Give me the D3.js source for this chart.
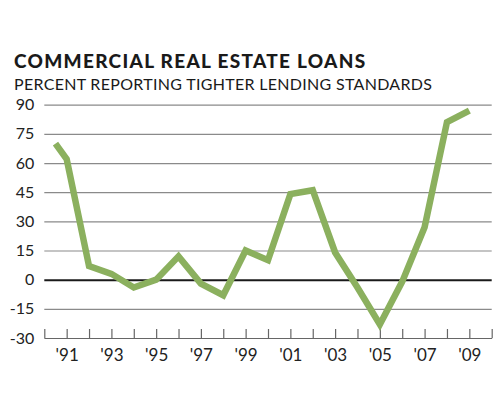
<!DOCTYPE html>
<html>
<head>
<meta charset="utf-8">
<script src="https://cdn.jsdelivr.net/npm/d3@7"></script>
<style>
  body { margin: 0; background: #fff; }
  .title { font-family: Lato, "DejaVu Sans", sans-serif; font-weight: 900; font-size: 19px; letter-spacing: 1.3px; fill: #1a1a1a; }
  .subtitle { font-family: Lato, "DejaVu Sans", sans-serif; font-weight: 400; font-size: 16px; letter-spacing: 0.3px; fill: #1a1a1a; }
  .axis text { font-family: Lato, "DejaVu Sans", sans-serif; font-size: 16px; fill: #222; }
  .x.axis text { font-size: 17px; }
</style>
</head>
<body>
<div id="chart"></div>
<script>
// survey values, percent of banks reporting tighter standards
var years = [1990.5, 1991, 1992, 1993, 1994, 1995, 1996, 1997, 1998, 1999,
             2000, 2001, 2002, 2003, 2004, 2005, 2006, 2007, 2008, 2009];
var values = [70, 62, 7, 3, -4, 0, 12, -2, -8, 15,
              10, 44, 46, 14, -4, -23, -1, 27, 81, 87];
var yTicks = [-30, -15, 0, 15, 30, 45, 60, 75, 90];
var xTicks = d3.range(1990, 2011);
var xLabelYears = [1991, 1993, 1995, 1997, 1999, 2001, 2003, 2005, 2007, 2009];

var w = 500, h = 400;
var padLeft = 44.3, padRight = 491.7, padTop = 104.7, padBottom = 338;

var svg = d3.select("#chart")
    .append("svg")
    .attr("width", w)
    .attr("height", h);

svg.append("text")
    .attr("class", "title")
    .attr("x", 14)
    .attr("y", 68)
    .text("COMMERCIAL REAL ESTATE LOANS");

svg.append("text")
    .attr("class", "subtitle")
    .attr("x", 14)
    .attr("y", 90)
    .text("PERCENT REPORTING TIGHTER LENDING STANDARDS");

var xScale = d3.scaleLinear()
    .domain([1990, 2010])
    .range([padLeft, padRight]);

var yScale = d3.scaleLinear()
    .domain([-30, 90])
    .range([padBottom, padTop]);

// gridlines + y labels (plain hyphen for negatives)
var yAxis = d3.axisLeft(yScale)
    .tickValues(yTicks)
    .tickSize(-(padRight - padLeft))
    .tickPadding(10)
    .tickFormat(function(d){ return String(d); });

var gy = svg.append("g")
    .attr("class", "y axis")
    .attr("transform", "translate(" + padLeft + ",0)")
    .call(yAxis);
gy.select(".domain").remove();
gy.selectAll(".tick line")
    .attr("stroke", function(d){ return d == 0 ? "#1a1a1a" : "#8a8a8a"; })
    .attr("stroke-width", function(d){ return d == 0 ? 2 : 1.2; });

// bottom axis, ticks pointing up
var xAxis = d3.axisBottom(xScale)
    .tickValues(xTicks)
    .tickSizeInner(-9)
    .tickSizeOuter(0)
    .tickPadding(11)
    .tickFormat(function(d){
        return xLabelYears.indexOf(d) >= 0 ? "'" + String(d).slice(2) : "";
    });

var gx = svg.append("g")
    .attr("class", "x axis")
    .attr("transform", "translate(0," + padBottom + ")")
    .call(xAxis);
gx.select(".domain").attr("stroke", "#666").attr("stroke-width", 1.2);
gx.selectAll(".tick line").attr("stroke", "#666").attr("stroke-width", 1.2);

var line = d3.line()
    .x(function(d, i){ return xScale(years[i]); })
    .y(function(d){ return yScale(d); });

svg.append("path")
    .datum(values)
    .attr("d", line)
    .attr("fill", "none")
    .attr("stroke", "#8bb05e")
    .attr("stroke-width", 6.5)
    .attr("stroke-linejoin", "miter");
</script>
</body>
</html>
